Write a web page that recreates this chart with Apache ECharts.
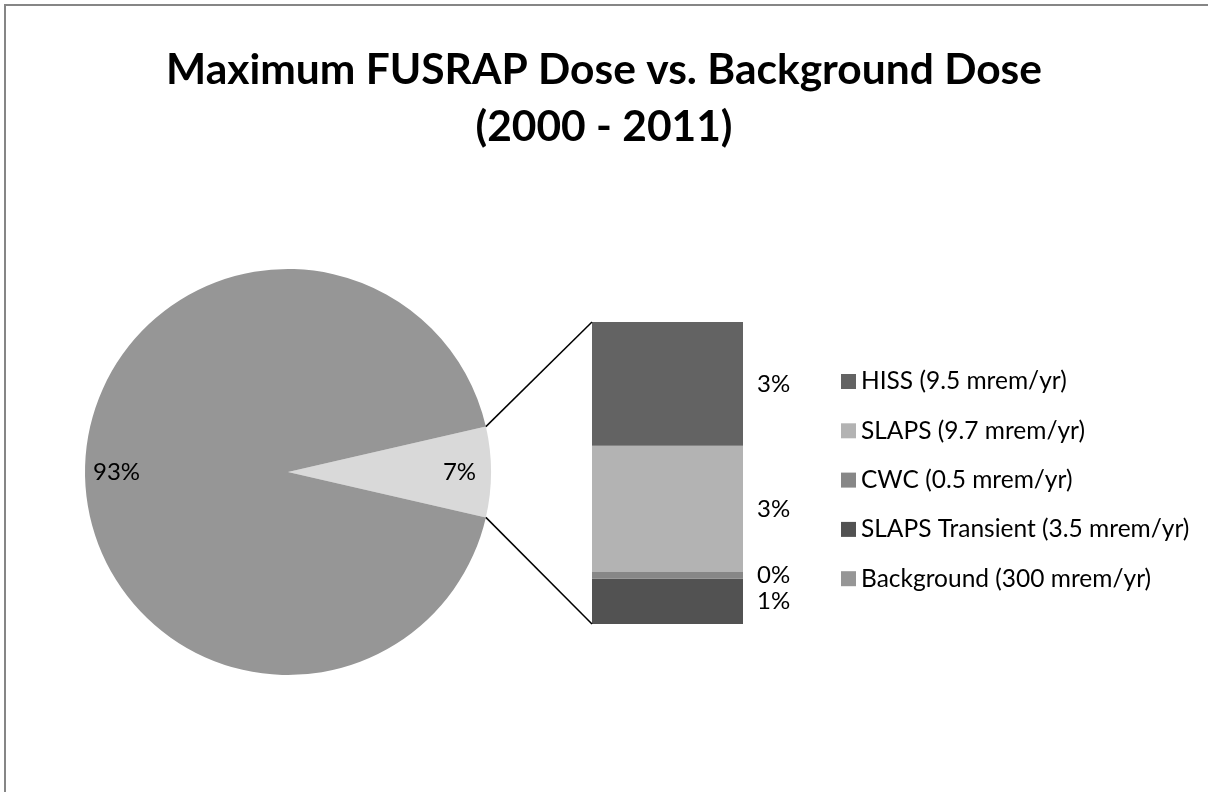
<!DOCTYPE html>
<html>
<head>
<meta charset="utf-8">
<title>Maximum FUSRAP Dose vs. Background Dose</title>
<script src="https://cdn.jsdelivr.net/npm/echarts@6/dist/echarts.min.js"></script>
<style>
  html, body { margin: 0; padding: 0; background: #fff; }
  #chart { width: 1208px; height: 792px; }
</style>
</head>
<body>
<div id="chart"></div>
<script>
// Site doses shown in the stacked bar (top to bottom in the legend)
const siteNames = ['HISS', 'SLAPS', 'CWC', 'SLAPS Transient'];
const siteDoses = [9.5, 9.7, 0.5, 3.5];
const siteColors = ['#636363', '#b3b3b3', '#878787', '#525252'];

// Natural background dose, shown as the large pie slice
const backgroundName = 'Background';
const backgroundDose = 300;
const backgroundColor = '#969696';
const otherSliceColor = '#d9d9d9';

const unit = 'mrem/yr';
const titleLines = ['Maximum FUSRAP Dose vs. Background Dose', '(2000 - 2011)'];

// Layout
const FONT = 'Lato';
const pieCenter = [288, 472];
const pieRadius = 203;
const barGrid = { left: 592, top: 322, width: 151, height: 302 };

const siteTotal = siteDoses.reduce((a, b) => a + b, 0);
const grandTotal = siteTotal + backgroundDose;
const pct = v => Math.round(v / grandTotal * 100) + '%';
const legendName = (n, v) => n + ' (' + v + ' ' + unit + ')';

// The "other" slice is centred on the 3 o'clock direction
const halfAngle = siteTotal / grandTotal * 180;

const chart = echarts.init(document.getElementById('chart'), null, { renderer: 'canvas' });

// Bars are stacked bottom-up, so walk the sites in reverse
const barSeries = siteNames.map((n, i) => i).reverse().map(i => ({
  type: 'bar',
  name: legendName(siteNames[i], siteDoses[i]),
  stack: 'sites',
  data: [siteDoses[i]],
  barWidth: '100%',
  itemStyle: { color: siteColors[i] },
  label: {
    show: true,
    position: 'right',
    distance: 14,
    formatter: p => pct(p.value),
    color: '#000',
    fontFamily: FONT,
    fontSize: 24
  },
  emphasis: { disabled: true }
}));

const pieData = [
  { name: 'FUSRAP sites', value: siteTotal, itemStyle: { color: otherSliceColor } },
  { name: legendName(backgroundName, backgroundDose), value: backgroundDose, itemStyle: { color: backgroundColor } }
];

const option = {
  animation: false,
  backgroundColor: '#fff',
  title: {
    text: titleLines.join('\n'),
    left: 'center',
    top: 37,
    textStyle: {
      fontFamily: FONT,
      fontWeight: 'bold',
      fontSize: 42.5,
      lineHeight: 57,
      color: '#000'
    }
  },
  legend: {
    orient: 'vertical',
    left: 836,
    top: 364,
    itemWidth: 15,
    itemHeight: 15,
    itemGap: 24.3,
    icon: 'rect',
    selectedMode: false,
    data: siteNames.map((n, i) => ({ name: legendName(n, siteDoses[i]), itemStyle: { color: siteColors[i] } }))
      .concat([{ name: legendName(backgroundName, backgroundDose), itemStyle: { color: backgroundColor } }]),
    textStyle: { fontFamily: FONT, fontSize: 24.5, color: '#000' }
  },
  grid: Object.assign({ containLabel: false }, barGrid),
  xAxis: { type: 'category', data: ['FUSRAP sites'], show: false },
  yAxis: { type: 'value', min: 0, max: siteTotal, show: false },
  series: [
    {
      type: 'pie',
      center: pieCenter,
      radius: pieRadius,
      startAngle: halfAngle,
      clockwise: true,
      data: pieData,
      label: { show: false },
      labelLine: { show: false },
      itemStyle: { borderWidth: 0 },
      emphasis: { disabled: true }
    },
    {
      // transparent ring carrying the percentage labels near the rim
      type: 'pie',
      center: pieCenter,
      radius: [134, pieRadius],
      startAngle: halfAngle,
      clockwise: true,
      silent: true,
      data: pieData.map(d => ({ name: 'pct ' + d.name, value: d.value, itemStyle: { color: 'rgba(0,0,0,0)' } })),
      label: {
        show: true,
        position: 'inside',
        formatter: p => pct(p.value),
        color: '#000',
        fontFamily: FONT,
        fontSize: 24
      },
      labelLine: { show: false },
      emphasis: { disabled: true }
    }
  ].concat(barSeries)
};

chart.setOption(option);

// Outer frame and the two connector lines from the small slice to the bar
const rad = halfAngle * Math.PI / 180;
const edgeX = pieCenter[0] + pieRadius * Math.cos(rad);
const edgeDy = pieRadius * Math.sin(rad);
const barTopLeft = chart.convertToPixel({ gridIndex: 0 }, [0, siteTotal]);
const barBottomLeft = chart.convertToPixel({ gridIndex: 0 }, [0, 0]);
const barLeftX = barGrid.left;

chart.setOption({
  graphic: [
    {
      type: 'rect',
      shape: { x: 5, y: 5, width: 1260, height: 840 },
      style: { fill: 'none', stroke: '#868686', lineWidth: 2 },
      silent: true, z: 100
    },
    {
      type: 'line',
      shape: { x1: edgeX, y1: pieCenter[1] - edgeDy, x2: barLeftX, y2: barTopLeft[1] },
      style: { stroke: '#000', lineWidth: 1.5 },
      silent: true, z: 10
    },
    {
      type: 'line',
      shape: { x1: edgeX, y1: pieCenter[1] + edgeDy, x2: barLeftX, y2: barBottomLeft[1] },
      style: { stroke: '#000', lineWidth: 1.5 },
      silent: true, z: 10
    }
  ]
});
</script>
</body>
</html>
